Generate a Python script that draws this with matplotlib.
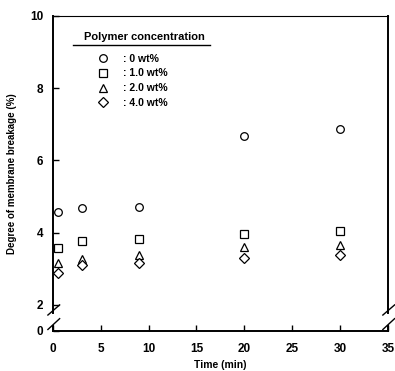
import matplotlib
matplotlib.use('Agg')
import matplotlib.pyplot as plt
from matplotlib.lines import Line2D

plt.rcParams['font.family'] = ['Liberation Sans', 'DejaVu Sans']
plt.rcParams['font.weight'] = 'bold'

# datos
tiempo = [0.5, 3, 9, 20, 30]
rotura_0 = [4.57, 4.69, 4.72, 6.68, 6.87]
rotura_1 = [3.57, 3.78, 3.82, 3.96, 4.05]
rotura_2 = [3.17, 3.27, 3.38, 3.61, 3.66]
rotura_4 = [2.88, 3.10, 3.17, 3.29, 3.39]
etiquetas = [': 0 wt%', ': 1.0 wt%', ': 2.0 wt%', ': 4.0 wt%']
marcadores = ['o', 's', '^', 'D']

y_cero = 1.28  # posicion del "0" tras el corte del eje

fig = plt.figure(figsize=(3.95, 3.71), dpi=100)
ax = fig.add_axes([0.134, 0.108, 0.848, 0.849])

series = [rotura_0, rotura_1, rotura_2, rotura_4]
tamanos = [5.5, 5.2, 5.2, 5.0]
for serie, m, lab, ms in zip(series, marcadores, etiquetas, tamanos):
    ax.plot(tiempo, serie, linestyle='none', marker=m, markersize=ms,
            markerfacecolor='white', markeredgecolor='black',
            markeredgewidth=0.9, label=lab)

ax.set_xlim(0, 35)
ax.set_ylim(y_cero, 10)
ax.set_xticks([0, 5, 10, 15, 20, 25, 30, 35])
ax.set_yticks([y_cero, 2, 4, 6, 8, 10])
ax.set_yticklabels(['0', '2', '4', '6', '8', '10'])
ax.tick_params(direction='in', length=4, width=1, labelsize=8.5)
ax.tick_params(axis='x', pad=9)
ax.tick_params(axis='y', pad=7)
for t in ax.get_xticklabels() + ax.get_yticklabels():
    t.set_fontweight('bold')

# ejes con corte
ax.spines['left'].set_visible(False)
ax.spines['right'].set_visible(False)
ax.spines['bottom'].set_linewidth(1.4)
ax.spines['top'].set_linewidth(0.8)
tr = ax.get_yaxis_transform()
for xx in [0, 1]:
    ax.plot([xx, xx], [1.78, 10], color='black', lw=1.4, transform=tr, clip_on=False)
    ax.plot([xx, xx], [y_cero, 1.42], color='black', lw=1.4, transform=tr, clip_on=False)
    ax.plot([xx - 0.015, xx + 0.02], [1.72, 2.0], color='black', lw=1.0, transform=tr, clip_on=False)
    ax.plot([xx - 0.015, xx + 0.02], [1.32, 1.62], color='black', lw=1.0, transform=tr, clip_on=False)

ax.set_xlabel('Time (min)', fontsize=7.5, fontweight='bold', labelpad=3)
ax.set_ylabel('Degree of membrane breakage (%)', fontsize=7, fontweight='bold', labelpad=9)

# leyenda: titulo subrayado y entradas
ax.text(0.272, 0.933, 'Polymer concentration', transform=ax.transAxes,
        ha='center', va='center', fontsize=8, fontweight='bold')
ax.add_line(Line2D([0.06, 0.469], [0.908, 0.908], color='black', lw=1.0,
                   transform=ax.transAxes))
leg = ax.legend(loc='upper left', bbox_to_anchor=(0.096, 0.903), frameon=False,
                fontsize=7.5, handletextpad=0.9, labelspacing=0.45, borderpad=0.2)
for t in leg.get_texts():
    t.set_fontweight('bold')

fig.savefig('out.png', dpi=100)
